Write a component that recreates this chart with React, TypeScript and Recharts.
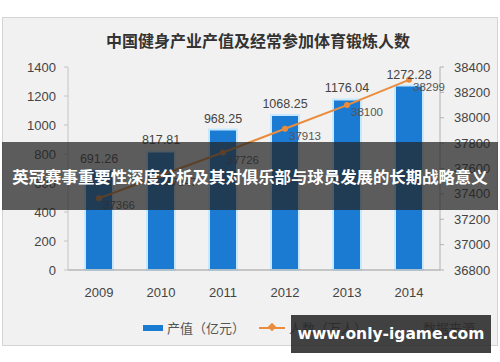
import { Bar, ComposedChart, LabelList, Line, XAxis, YAxis } from "recharts";

const years = ["2009", "2010", "2011", "2012", "2013", "2014"];
const outputValues = [691.26, 817.81, 968.25, 1068.25, 1176.04, 1272.28];
const peopleValues = [37366, 37547, 37726, 37913, 38100, 38299];
const leftTicks = [0, 200, 400, 600, 800, 1000, 1200, 1400];
const rightTicks = [36800, 37000, 37200, 37400, 37600, 37800, 38000, 38200, 38400];

const chartTitle = "中国健身产业产值及经常参加体育锻炼人数";
const bannerText = "英冠赛事重要性深度分析及其对俱乐部与球员发展的长期战略意义";
const siteText = "www.only-igame.com";
const sourceText = "数据来源";

const numFont = "'Liberation Sans', 'Noto Sans CJK SC', sans-serif";
const cjkFont = "'Noto Sans CJK SC', sans-serif";
const barBlue = "#1b7bd3";
const lineOrange = "#eb8c3c";

const data = years.map((year, i) => ({
  year,
  output: outputValues[i],
  people: peopleValues[i]
}));

function PeopleLabel(props: any) {
  const { x, y, value } = props;
  return (
    <text x={x + 4} y={y + 8} fontSize={11.5} fill="#555" fontFamily={numFont} textAnchor="start" dominantBaseline="middle">
      {value}
    </text>
  );
}

export default function App() {
  return (
    <div style={{ position: "absolute", left: 0, top: 0, width: 500, height: 362, background: "#fff", overflow: "hidden" }}>
      <div
        style={{
          position: "absolute",
          left: 2,
          top: 17,
          width: 494,
          height: 327,
          background: "#f1f1f1",
          border: "1px solid #d4d4d4"
        }}
      />
      <div
        style={{
          position: "absolute",
          left: 0,
          width: 516,
          top: 29,
          textAlign: "center",
          fontFamily: cjkFont,
          fontWeight: 700,
          fontSize: 16,
          color: "#333",
          lineHeight: "22px"
        }}
      >
        {chartTitle}
      </div>

      <div style={{ position: "absolute", left: 0, top: 0 }}>
        <ComposedChart width={500} height={362} data={data} margin={{ top: 67, right: 0, left: 0, bottom: 62 }}>
          <XAxis
            dataKey="year"
            tickLine={false}
            tickSize={0}
            tickMargin={18}
            axisLine={{ stroke: "#9a9a9a" }}
            tick={{ fontSize: 13, fill: "#444", fontFamily: numFont }}
            height={30}
          />
          <YAxis
            yAxisId="left"
            domain={[0, 1400]}
            ticks={leftTicks}
            width={68}
            tickSize={4}
            tickMargin={8}
            axisLine={{ stroke: "#c4c4c4" }}
            tickLine={{ stroke: "#c4c4c4" }}
            tick={{ fontSize: 13, fill: "#444", fontFamily: numFont }}
          />
          <YAxis
            yAxisId="right"
            orientation="right"
            domain={[36800, 38400]}
            ticks={rightTicks}
            width={60}
            tickSize={4}
            tickMargin={10}
            axisLine={{ stroke: "#b0b0b0" }}
            tickLine={{ stroke: "#b0b0b0" }}
            tick={{ fontSize: 13, fill: "#444", fontFamily: numFont }}
          />
          <Bar
            yAxisId="left"
            dataKey="output"
            fill={barBlue}
            stroke="#c6e9ff"
            strokeWidth={2}
            barSize={28}
            isAnimationActive={false}
          >
            <LabelList dataKey="output" position="top" offset={7} fill="#444" fontSize={12.5} fontFamily={numFont} formatter={(v: any) => Number(v).toFixed(2)} />
          </Bar>
          <Line
            yAxisId="right"
            dataKey="people"
            stroke={lineOrange}
            strokeWidth={2}
            dot={{ r: 2, fill: lineOrange, stroke: lineOrange }}
            isAnimationActive={false}
          >
            <LabelList dataKey="people" content={<PeopleLabel />} />
          </Line>
        </ComposedChart>
      </div>

      <div
        style={{
          position: "absolute",
          left: 143,
          top: 318,
          display: "flex",
          alignItems: "center",
          fontFamily: cjkFont,
          fontSize: 13,
          color: "#555",
          whiteSpace: "nowrap"
        }}
      >
        <span style={{ display: "inline-block", width: 20, height: 6, background: barBlue, marginRight: 4 }} />
        <span>产值（亿元）</span>
        <span style={{ position: "relative", display: "inline-block", width: 26, height: 2, background: lineOrange, marginLeft: 14, marginRight: 4 }}>
          <span style={{ position: "absolute", left: 10, top: -3, width: 6, height: 6, background: lineOrange, transform: "rotate(45deg)" }} />
        </span>
        <span>人数（万人）</span>
        <span style={{ marginLeft: 56 }}>{sourceText}</span>
      </div>

      <div
        style={{
          position: "absolute",
          left: 2,
          top: 142,
          width: 496,
          height: 68,
          background: "rgba(35,35,35,0.72)",
          display: "flex",
          alignItems: "center",
          justifyContent: "center",
          color: "#fff",
          fontFamily: cjkFont,
          fontWeight: 700,
          fontSize: 16.4,
          whiteSpace: "nowrap"
        }}
      >
        {bannerText}
      </div>

      <div
        style={{
          position: "absolute",
          left: 291,
          top: 315,
          width: 200,
          height: 38,
          background: "rgba(40,40,40,0.88)",
          display: "flex",
          alignItems: "center",
          justifyContent: "center",
          color: "#fff",
          fontFamily: "'DejaVu Sans', sans-serif",
          fontWeight: 700,
          fontSize: 15.5,
          whiteSpace: "nowrap"
        }}
      >
        {siteText}
      </div>
    </div>
  );
}
